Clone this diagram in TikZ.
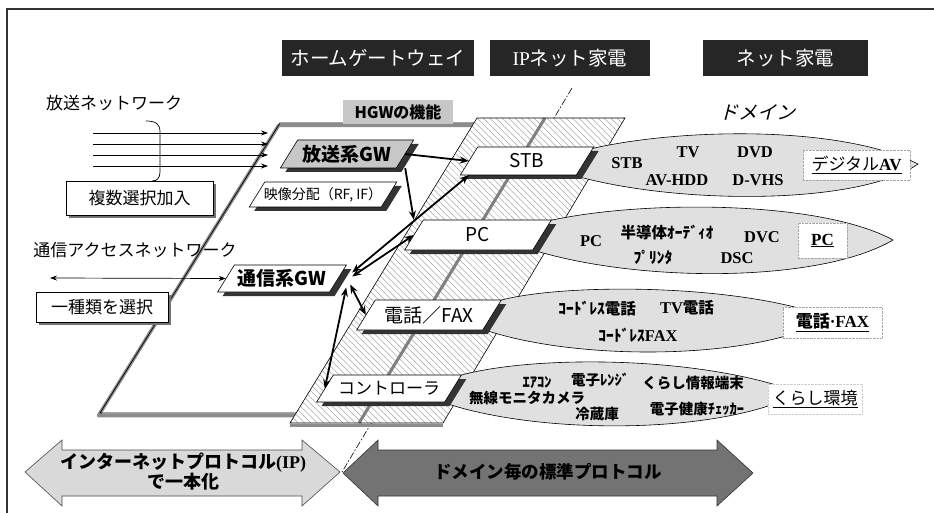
\documentclass[tikz,border=0pt]{standalone}
\usepackage{fontspec}
\setmainfont{Liberation Serif}
\newfontfamily\jp{Noto Sans CJK JP}
\newfontfamily\jpsl[FakeSlant=0.25]{Noto Sans CJK JP}
\newfontfamily\sr{Liberation Serif}
\usetikzlibrary{arrows.meta,patterns.meta,calc,shadows}

% parallelogram box: name, cx, cy, half width, half height, fill, text
\newcommand\pg[7]{%
  \pgfmathsetmacro\pgK{0.62*#5}%
  \fill[black!80] ({#2-#4+\pgK+5},{#3-#5+4}) -- ({#2+#4+\pgK+5},{#3-#5+4}) -- ({#2+#4-\pgK+5},{#3+#5+4}) -- ({#2-#4-\pgK+5},{#3+#5+4}) -- cycle;
  \filldraw[fill=#6,draw=black,line width=0.6pt] ({#2-#4+\pgK},{#3-#5}) -- ({#2+#4+\pgK},{#3-#5}) -- ({#2+#4-\pgK},{#3+#5}) -- ({#2-#4-\pgK},{#3+#5}) -- cycle;
  \node[minimum width={2*#4}, minimum height={2*#5}, inner sep=0pt] (#1) at (#2,#3) {#7};
}

\begin{document}
\begin{tikzpicture}[x=1pt,y=-1pt,
  hdr/.style={fill=black!85, text=white, font=\jp\fontsize{19.5}{22}\selectfont, inner sep=0pt, minimum height=36},
  conn/.style={line width=1.8pt, >={Stealth[length=9pt,width=7pt]}},
  dl/.style={font=\sr\bfseries\fontsize{16.5}{18}\selectfont, inner sep=1pt},
  dj/.style={font=\jp\bfseries\fontsize{15.5}{18}\selectfont, inner sep=1pt},
  dk/.style={font=\jp\bfseries\fontsize{14.5}{17}\selectfont, inner sep=1pt},
  lab/.style={fill=white, draw=black!35, densely dotted, inner sep=0pt},
  dom/.style={fill=black!12, draw=black, line width=0.6pt},
  selbox/.style={draw=black, line width=0.6pt, fill=white, inner sep=0pt, font=\jp\fontsize{17}{20}\selectfont, drop shadow={shadow xshift=3pt, shadow yshift=-3pt, fill=black!55, opacity=1}},
]
\useasboundingbox (0,0) rectangle (934,513);
\fill[white] (0,0) rectangle (934,513);

% frame
\draw[line width=1.2pt, black!80] (7,513) -- (7,9) -- (934,9);
% dash-dot boundary
\draw[line width=0.6pt, dash pattern=on 7pt off 2pt on 1.5pt off 2pt] (572,88) -- (342,472);

% HGW region
\fill[white] (280,123) -- (520,123) -- (340,413) -- (100,413) -- cycle;
\draw[black!45, line width=3.5pt, line join=round, shift={(-1.5,2.5)}] (280,123) -- (520,123) -- (340,413) -- (100,413) -- cycle;
\draw[black, line width=0.7pt] (280,123) -- (520,123) -- (340,413) -- (100,413) -- cycle;
\node[fill=black!22, font=\jp\bfseries\fontsize{16}{19}\selectfont, minimum width=110, minimum height=24, inner sep=0pt] (hgwf) at (398,112) {HGWの機能};

% hatched IP appliance region
\fill[white] (477,118) -- (625,118) -- (443,423) -- (290,423) -- cycle;
\fill[pattern={Lines[angle=-45,distance=4.5pt,line width=0.35pt]}, pattern color=black!45] (477,118) -- (625,118) -- (443,423) -- (290,423) -- cycle;
\draw[black!50, line width=3pt] (545,118) -- (359,423);
\draw[black!45, line width=3pt] (290,425) -- (443,425);
\draw[black, line width=0.6pt] (477,118) -- (625,118) -- (443,423) -- (290,423) -- cycle;

% domains
\filldraw[dom] (590,149) .. controls (680,128) and (840,125) .. (918,164) .. controls (860,205) and (680,205) .. (576,176) -- cycle;
\filldraw[dom] (548,221) .. controls (640,200) and (820,200) .. (893,240) .. controls (820,283) and (640,283) .. (533,250) -- cycle;
\filldraw[dom] (498,301) .. controls (560,283) and (740,283) .. (830,318) .. controls (760,360) and (580,362) .. (485,330) -- cycle;
\filldraw[dom] (458,376) .. controls (530,355) and (700,355) .. (800,393) .. controls (720,435) and (540,435) .. (445,403) -- cycle;

% boxes
\pg{hoso}{347}{154}{58}{14}{black!22}{\jp\bfseries\fontsize{19}{22}\selectfont 放送系GW}
\pg{eizo}{323}{194.5}{66}{12.5}{white}{\jp\fontsize{14}{17}\selectfont 映像分配（RF, IF）}
\pg{tsushin}{282}{278.5}{56}{13.5}{white}{\jp\bfseries\fontsize{19}{22}\selectfont 通信系GW}
\pg{stb}{527}{161}{58}{14}{white}{\jp\fontsize{19}{22}\selectfont STB}
\pg{pc}{478}{235}{64}{15}{white}{\jp\fontsize{19}{22}\selectfont PC}
\pg{denwa}{429}{315}{63}{15}{white}{\jp\fontsize{19}{22}\selectfont 電話／FAX}
\pg{ctrl}{389}{388.5}{64}{13.5}{white}{\jp\fontsize{17}{20}\selectfont コントローラ}

% connectors
\draw[conn,->] (hoso.east) -- (stb.west);
\draw[conn,->] (hoso.south east) -- (pc.north west);
\draw[conn,<->] ([shift={(14,-6)}]tsushin.east) -- (stb.south west);
\draw[conn,<->] ([shift={(14,-2)}]tsushin.east) -- (pc.west);
\draw[conn,<->] ([shift={(12,6)}]tsushin.east) -- (denwa.west);
\draw[conn,<->] ([shift={(8,9)}]tsushin.east) -- (ctrl.west);

% domain contents
\node[dl] (av1) at (627,163) {STB};
\node[dl] (av2) at (688,152) {TV};
\node[dl] (av3) at (755,152) {DVD};
\node[dl] (av4) at (677,180) {AV-HDD};
\node[dl] (av5) at (758,180) {D-VHS};
\node[lab, minimum width=107, minimum height=30] (labav) at (856.5,165) {\underline{{\jp\fontsize{17}{20}\selectfont デジタル}{\sr\bfseries\fontsize{17}{20}\selectfont AV}}};

\node[dl] (pc1) at (591,241) {PC};
\node[dj] (pc2) at (667,233) {半導体ｵｰﾃﾞｨｵ};
\node[dl] (pc3) at (762,237) {DVC};
\node[dj] (pc4) at (653,258) {ﾌﾟﾘﾝﾀ};
\node[dl] (pc5) at (737,258) {DSC};
\node[lab, minimum width=49, minimum height=35] (labpc) at (822.5,240.5) {\underline{\sr\bfseries\fontsize{17}{20}\selectfont PC}};

\node[dj] (te1) at (597,309) {ｺｰﾄﾞﾚｽ電話};
\node[inner sep=1pt] (te2) at (687,308) {{\sr\bfseries\fontsize{16.5}{18}\selectfont TV}{\jp\bfseries\fontsize{15.5}{18}\selectfont 電話}};
\node[inner sep=1pt] (te3) at (638,335) {{\jp\bfseries\fontsize{15.5}{18}\selectfont ｺｰﾄﾞﾚｽ}{\sr\bfseries\fontsize{16.5}{18}\selectfont FAX}};
\node[lab, minimum width=99, minimum height=31] (labtel) at (832.5,322.5) {\underline{{\jp\bfseries\fontsize{17}{20}\selectfont 電話}{\sr\bfseries\fontsize{17}{20}\selectfont ·FAX}}};

\node[dk] (ku1) at (537,382) {ｴｱｺﾝ};
\node[dk] (ku2) at (600,380) {電子ﾚﾝｼﾞ};
\node[dk] (ku3) at (693,383) {くらし情報端末};
\node[dk] (ku4) at (527,398) {無線モニタカメラ};
\node[dk] (ku5) at (597,414) {冷蔵庫};
\node[dk] (ku6) at (697,409) {電子健康ﾁｪｯｶｰ};
\node[lab, draw=black!20, minimum width=94, minimum height=30] (labku) at (815,399) {\underline{\jp\fontsize{17}{20}\selectfont くらし環境}};

\node[font=\jpsl\fontsize{19}{22}\selectfont] (domain) at (757,112) {ドメイン};

% left side: broadcast
\node[font=\jp\fontsize{17}{20}\selectfont, inner sep=0pt] (hosonet) at (114,103) {放送ネットワーク};
\foreach \yy in {133,144,155,166} \draw[line width=0.7pt, -{Stealth[length=7pt,width=5pt]}] (93,\yy) -- (268,\yy);
\node[selbox, minimum width=147, minimum height=34] (fuku) at (139.5,198) {複数選択加入};
\draw[line width=0.7pt] (146,121) .. controls (156,121) and (160,124) .. (160,132) -- (160,172) .. controls (160,178) and (157,181) .. (152,181);

% left side: communication
\node[font=\jp\fontsize{17}{20}\selectfont, inner sep=0pt] (tsunet) at (135,250) {通信アクセスネットワーク};
\coordinate (tsl) at (50,278);
\draw[line width=0.7pt, <->, >={Stealth[length=7pt,width=5pt]}] (tsl) -- (tsushin.west);
\node[selbox, minimum width=132, minimum height=30] (isshu) at (102,307) {一種類を選択};

% headers
\node[hdr, minimum width=192] (h1) at (378,58) {ホームゲートウェイ};
\node[hdr, minimum width=160] (h2) at (570,58) {{\sr IP}ネット家電};
\node[hdr, minimum width=165] (h3) at (785.5,58) {ネット家電};

% bottom arrows
\filldraw[fill=black!15, draw=black!70, line width=0.6pt] (25,472) -- (62,440) -- (62,450) -- (302,450) -- (302,440) -- (340,472) -- (302,506) -- (302,496) -- (62,496) -- (62,506) -- cycle;
\node[font=\jp\bfseries\fontsize{18}{20}\selectfont, align=center] (iptxt) at (183,472) {インターネットプロトコル{\sr\bfseries (IP)}\\で一本化};
\filldraw[fill=black!55, draw=black!80, line width=0.6pt] (343,473) -- (378,440) -- (378,450) -- (717,450) -- (717,440) -- (753,473) -- (717,506) -- (717,496) -- (378,496) -- (378,506) -- cycle;
\node[font=\jp\bfseries\fontsize{17.5}{20}\selectfont] (domtxt) at (548,472) {ドメイン毎の標準プロトコル};
\end{tikzpicture}
\end{document}
